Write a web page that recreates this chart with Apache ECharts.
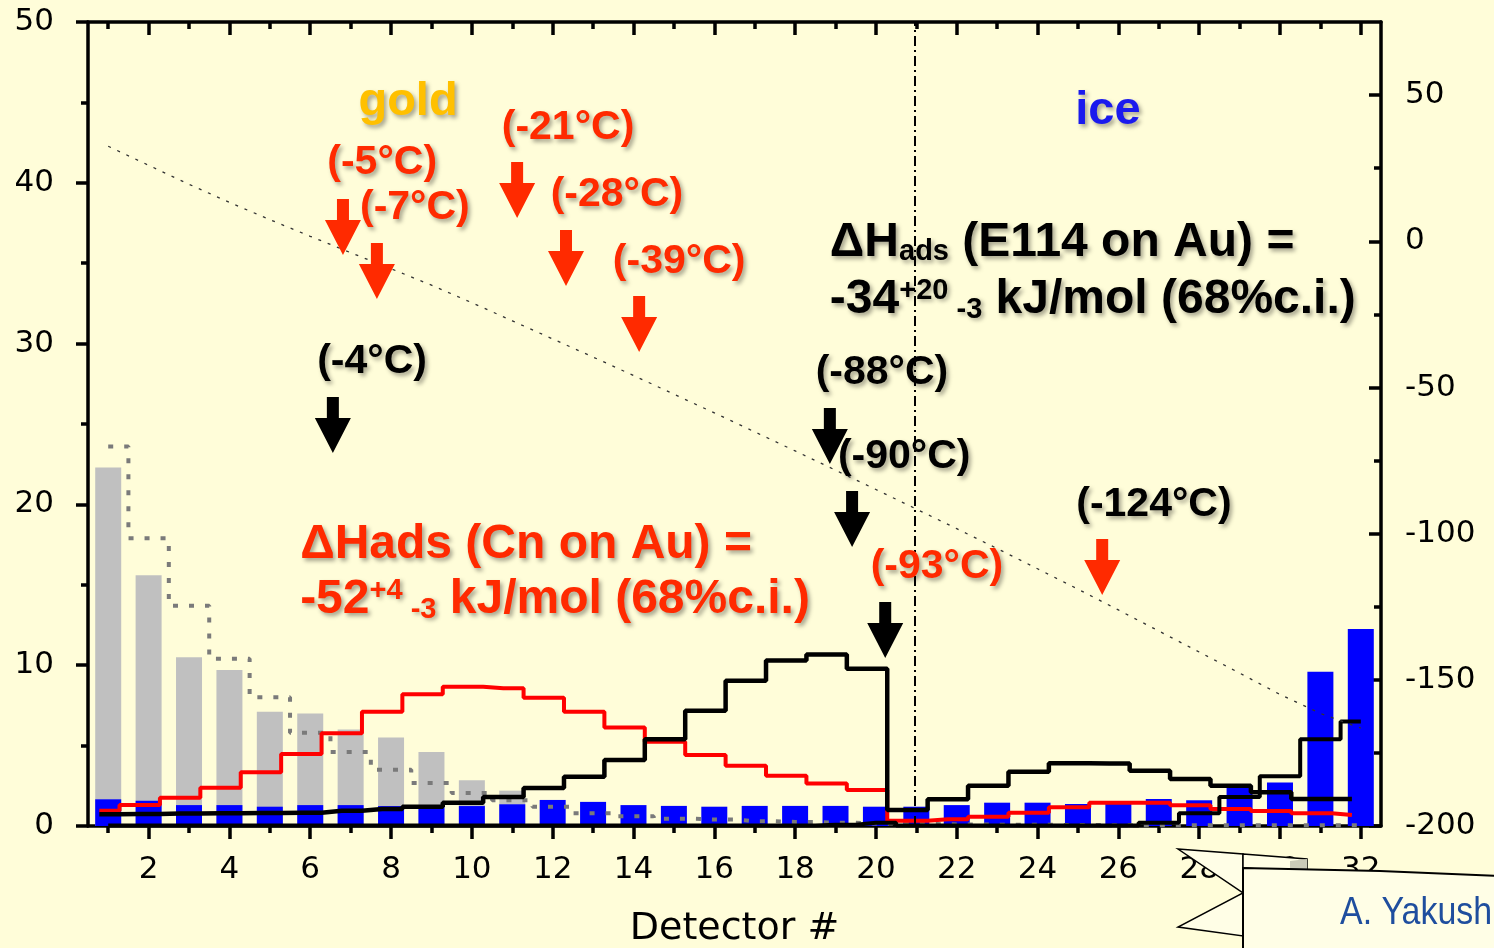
<!DOCTYPE html>
<html>
<head>
<meta charset="utf-8">
<script src="https://cdn.jsdelivr.net/npm/echarts@6.0.0/dist/echarts.min.js"></script>
<style>
html,body{margin:0;padding:0;background:#fffdd9;}
#c{width:1494px;height:948px;}
</style>
</head>
<body>
<div id="c"></div>
<script>
// ---------------- data ----------------
const detectors = [1,2,3,4,5,6,7,8,9,10,11,12,13,14,15,16,17,18,19,20,21,22,23,24,25,26,27,28,29,30,31,32];
const xTickLabels = [2,4,6,8,10,12,14,16,18,20,22,24,26,28,30,32];
const xMinorTicks = [1,3,5,7,9,11,13,15,17,19,21,23,25,27,29,31];
const rightTickLabels = [-200,-150,-100,-50,0,50];
const rightMinorTicks = [-175,-125,-75,-25,25];

// measured counts (gray bars, detectors 1..11)
const grayBars = [22.3,15.6,10.5,9.7,7.1,7.0,6.0,5.5,4.6,2.85,2.2];
// measured counts (blue bars, detectors 1..32)
const blueBars = [1.66,1.57,1.3,1.3,1.2,1.3,1.3,1.24,1.16,1.24,1.35,1.62,1.5,1.3,1.25,1.2,1.25,1.25,1.25,1.2,1.2,1.3,1.45,1.45,1.37,1.37,1.68,1.6,2.4,2.7,9.6,12.25];
// simulated distributions (step lines)
const grayDotted = [23.6,17.9,13.7,10.4,8.0,5.8,4.6,3.5,2.67,2.05,1.6,1.2,0.8,0.6,0.45,0.4,0.3,0.25,0.2,0.15,0.12,0.1,0.08,0.07,0.06,0.05,0.05,0.05,0.05,0.05,0.05,0.05];
const redSim = [0.95,1.3,1.76,2.38,3.34,4.48,5.77,7.1,8.19,8.66,8.56,7.98,7.11,6.13,5.24,4.42,3.75,3.13,2.65,2.24,0.33,0.42,0.58,0.83,1.16,1.45,1.45,1.29,1.06,0.93,0.79,0.68];
const blackSimA = [0.73,0.75,0.77,0.79,0.81,0.83,0.95,1.05,1.2,1.45,1.8,2.37,3.07,4.1,5.4,7.17,9.04,10.3,10.67,9.78,1.0,1.66,2.5,3.38,3.9,3.88,3.44,2.92,2.5,2.1,1.68,1.68];
const blackSimB = [0.03,0.03,0.03,0.03,0.03,0.03,0.03,0.03,0.03,0.03,0.03,0.03,0.03,0.03,0.03,0.03,0.03,0.03,0.08,0.2,0.03,0.03,0.03,0.03,0.03,0.03,0.2,0.8,1.8,3.1,5.4,6.5];
// temperature profile (right axis, °C)
const temperature = [32.5,26.0,19.5,13.3,7.4,1.7,-3.9,-9.4,-15.0,-21.0,-27.2,-33.4,-39.6,-45.9,-52.3,-58.7,-65.2,-71.7,-78.3,-84.9,-91.6,-98.3,-105.1,-112.0,-119.0,-126.1,-133.3,-140.5,-147.7,-155.0,-161.5,-166.5];
const goldIceBoundary = 20.95;

// annotations (detector #, left-axis value)
const RED = '#ff2a00';
const tempLabels = [
  ['(-5°C)', 7.78, 41.23, RED],
  ['(-7°C)', 8.59, 38.43, RED],
  ['(-21°C)', 12.38, 43.41, RED],
  ['(-28°C)', 13.59, 39.24, RED],
  ['(-39°C)', 15.13, 35.07, RED],
  ['(-4°C)', 7.53, 28.86, '#000'],
  ['(-88°C)', 20.15, 28.17, '#000'],
  ['(-90°C)', 20.70, 22.95, '#000'],
  ['(-93°C)', 21.51, 16.11, RED],
  ['(-124°C)', 26.88, 19.96, '#000']
];
const arrowTips = [
  [6.81, 35.51, RED],
  [7.65, 32.77, RED],
  [11.12, 37.81, RED],
  [12.33, 33.58, RED],
  [14.14, 29.48, RED],
  [25.60, 14.37, RED],
  [6.56, 23.20, '#000'],
  [18.86, 22.51, '#000'],
  [19.41, 17.35, '#000'],
  [20.23, 10.45, '#000']
];

// ---------------- chart ----------------
const F = '"Liberation Sans", Arial, Helvetica, sans-serif';
const AX = '"DejaVu Sans", sans-serif';
const SIM_SHIFT = -0.22;
const pairs = (vals, shift) => vals.map((v, i) => [detectors[i] + shift, v]);

const chart = echarts.init(document.getElementById('c'), null, {renderer: 'canvas'});

const baseX = {type: 'value', min: 0.5, max: 32.5, splitLine: {show: false}};
const blackLine = {color: '#000', width: 3.5};

const option = {
  animation: false,
  backgroundColor: '#fffdd9',
  grid: {left: 88, right: 113, top: 22, bottom: 122, containLabel: false, outerBoundsMode: 'none'},
  xAxis: [
    Object.assign({}, baseX, {
      position: 'bottom',
      axisLine: {show: true, onZero: false, lineStyle: blackLine},
      axisTick: {show: true, customValues: xTickLabels, length: 13, lineStyle: blackLine},
      axisLabel: {customValues: xTickLabels, fontFamily: AX, fontSize: 31, color: '#000', margin: 28},
      name: 'Detector #', nameLocation: 'middle', nameGap: 84,
      nameTextStyle: {fontFamily: AX, fontSize: 38, color: '#000'}
    }),
    Object.assign({}, baseX, {
      position: 'bottom',
      axisLine: {show: false, onZero: false},
      axisTick: {show: true, customValues: xMinorTicks, length: 7, lineStyle: blackLine},
      axisLabel: {show: false}
    }),
    Object.assign({}, baseX, {
      position: 'top',
      axisLine: {show: true, onZero: false, lineStyle: blackLine},
      axisTick: {show: true, inside: true, customValues: xTickLabels, length: 13, lineStyle: blackLine},
      axisLabel: {show: false}
    }),
    Object.assign({}, baseX, {
      position: 'top',
      axisLine: {show: false, onZero: false},
      axisTick: {show: true, inside: true, customValues: xMinorTicks, length: 7, lineStyle: blackLine},
      axisLabel: {show: false}
    })
  ],
  yAxis: [
    {
      type: 'value', position: 'left', min: 0, max: 50, interval: 10,
      axisLine: {show: true, onZero: false, lineStyle: blackLine},
      axisTick: {show: true, length: 12, lineStyle: blackLine},
      minorTick: {show: true, splitNumber: 2, length: 7, lineStyle: blackLine},
      axisLabel: {fontFamily: AX, fontSize: 31, color: '#000', margin: 34},
      splitLine: {show: false}
    },
    {
      type: 'value', position: 'right', min: -200, max: 75,
      axisLine: {show: true, onZero: false, lineStyle: blackLine},
      axisTick: {show: true, inside: true, customValues: rightTickLabels, length: 12, lineStyle: blackLine},
      axisLabel: {customValues: rightTickLabels, fontFamily: AX, fontSize: 31, color: '#000', margin: 24},
      splitLine: {show: false}
    },
    {
      type: 'value', position: 'right', min: -200, max: 75,
      axisLine: {show: false, onZero: false},
      axisTick: {show: true, inside: true, customValues: rightMinorTicks, length: 7, lineStyle: blackLine},
      axisLabel: {show: false},
      splitLine: {show: false}
    }
  ],
  series: [
    {
      name: 'gold measured', type: 'bar', xAxisIndex: 0, yAxisIndex: 0,
      data: pairs(grayBars, 0), barWidth: 26, barGap: '-100%',
      itemStyle: {color: '#c0c0c0'}
    },
    {
      name: 'ice measured', type: 'bar', xAxisIndex: 0, yAxisIndex: 0,
      data: pairs(blueBars, 0), barWidth: 26, barGap: '-100%',
      itemStyle: {color: '#0000ff'}
    },
    {
      name: 'sim gray', type: 'line', step: 'middle', xAxisIndex: 0, yAxisIndex: 0,
      data: pairs(grayDotted, 0), symbol: 'none',
      lineStyle: {color: '#7a7a7a', width: 4, type: [5, 11]}
    },
    {
      name: 'sim Cn', type: 'line', step: 'middle', xAxisIndex: 0, yAxisIndex: 0,
      data: pairs(redSim, SIM_SHIFT), symbol: 'none',
      lineStyle: {color: '#ff0000', width: 4}
    },
    {
      name: 'sim E114 A', type: 'line', step: 'middle', xAxisIndex: 0, yAxisIndex: 0,
      data: pairs(blackSimA, SIM_SHIFT), symbol: 'none',
      lineStyle: {color: '#000', width: 4.5}
    },
    {
      name: 'sim E114 B', type: 'line', step: 'middle', xAxisIndex: 0, yAxisIndex: 0,
      data: pairs(blackSimB, 0), symbol: 'none',
      lineStyle: {color: '#000', width: 4}
    },
    {
      name: 'temperature', type: 'line', xAxisIndex: 0, yAxisIndex: 1,
      data: pairs(temperature, 0), symbol: 'none',
      lineStyle: {color: '#333', width: 1.3, type: [3, 7]},
      markLine: {
        silent: true, symbol: 'none', label: {show: false},
        lineStyle: {color: '#000', width: 2, type: [10, 4, 2, 4]},
        data: [{xAxis: goldIceBoundary}]
      }
    }
  ]
};
chart.setOption(option);

// ---------------- annotations ----------------
const px = (d, v) => chart.convertToPixel({xAxisIndex: 0, yAxisIndex: 0}, [d, v]);
const SH = {textShadowColor: 'rgba(0,0,0,0.35)', textShadowBlur: 4, textShadowOffsetX: 2.5, textShadowOffsetY: 2.5};
const ARROW = [[-6,-56],[6,-56],[6,-35],[18,-35],[0,0],[-18,-35],[-6,-35]];
const graphics = [];

arrowTips.forEach(a => {
  const p = px(a[0], a[1]);
  graphics.push({type: 'polygon', x: p[0], y: p[1], z: 100, shape: {points: ARROW}, style: {fill: a[2]}});
});
tempLabels.forEach(t => {
  const p = px(t[1], t[2]);
  graphics.push({type: 'text', x: p[0], y: p[1], z: 101,
    style: Object.assign({text: t[0], fill: t[3], fontFamily: F, fontWeight: 'bold', fontSize: 41, align: 'center', verticalAlign: 'middle'}, SH)});
});
[['gold', 8.42, 45.02, '#ffc000'], ['ice', 25.74, 44.45, '#1a1aee']].forEach(t => {
  const p = px(t[1], t[2]);
  graphics.push({type: 'text', x: p[0], y: p[1], z: 101,
    style: Object.assign({text: t[0], fill: t[3], fontFamily: F, fontWeight: 'bold', fontSize: 47, align: 'center', verticalAlign: 'middle'}, SH)});
});

function richStyles(color) {
  return {
    m: {fill: color, fontFamily: F, fontWeight: 'bold', fontSize: 48, lineHeight: 48},
    p: {fill: color, fontFamily: F, fontWeight: 'bold', fontSize: 29, lineHeight: 30, verticalAlign: 'top'},
    s: {fill: color, fontFamily: F, fontWeight: 'bold', fontSize: 29, lineHeight: 18, verticalAlign: 'bottom'}
  };
}
function bigText(str, d, v, color) {
  const p = px(d, v);
  graphics.push({type: 'text', x: p[0], y: p[1], z: 101,
    style: Object.assign({text: str, rich: richStyles(color), fill: color, fontFamily: F, fontWeight: 'bold', fontSize: 48,
      align: 'left', verticalAlign: 'middle'}, SH)});
}
bigText('{m|ΔH}{s|ads}{m| (E114 on Au) =}', 18.86, 36.26, '#000');
bigText('{m|-34}{p|+20 }{s|-3}{m| kJ/mol (68%c.i.)}', 18.86, 32.71, '#000');
bigText('{m|ΔHads (Cn on Au) =}', 5.75, 17.48, RED);
bigText('{m|-52}{p|+4 }{s|-3}{m| kJ/mol (68%c.i.)}', 5.75, 14.05, RED);

// ribbon decoration (bottom right)
graphics.push({type: 'polygon', z: 110, shape: {points: [[1178,849],[1243,854],[1243,936],[1178,927],[1243,893]]},
  style: {fill: '#fffee6', stroke: '#000', lineWidth: 1.5}});
graphics.push({type: 'polygon', z: 111, shape: {points: [[1243,854],[1307,859],[1307,872],[1243,868]]},
  style: {fill: '#fffee6', stroke: '#000', lineWidth: 1.5}});
graphics.push({type: 'polygon', z: 112, shape: {points: [[1290,861],[1307,859],[1307,872],[1290,871.5]]},
  style: {fill: '#cbcbb8', stroke: null}});
graphics.push({type: 'polygon', z: 113, shape: {points: [[1243,868],[1380,871],[1500,876],[1500,960],[1243,960]]},
  style: {fill: '#fffee6', stroke: '#000', lineWidth: 2}});
graphics.push({type: 'text', x: 1340, y: 913, z: 114, scaleX: 0.87,
  style: {text: 'A. Yakush', fill: '#1f4e9e', fontFamily: F, fontSize: 39, align: 'left', verticalAlign: 'middle'}});

chart.setOption({graphic: graphics});
</script>
</body>
</html>
